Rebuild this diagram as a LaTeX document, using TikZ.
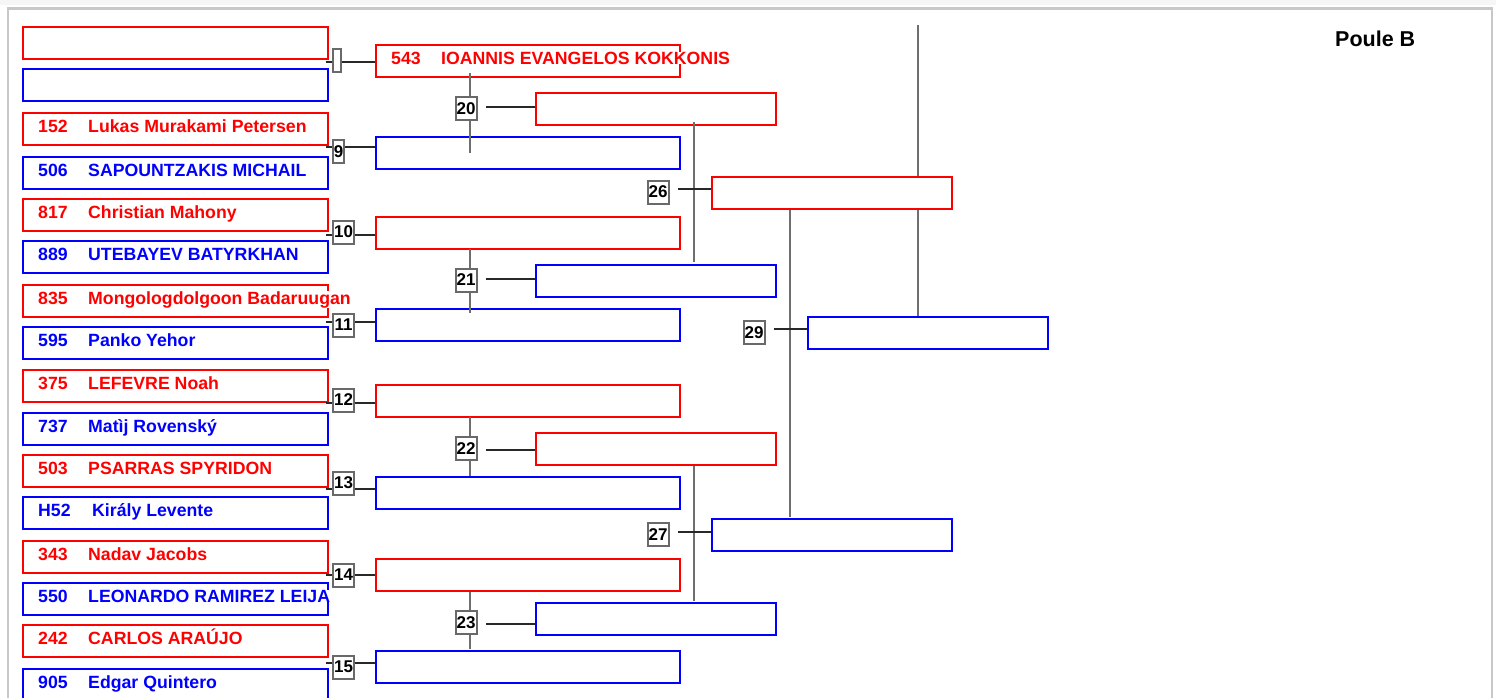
\documentclass[tikz,border=0pt]{standalone}
\usepackage{fontspec}
\setmainfont{Liberation Sans}
\usetikzlibrary{calc}
\definecolor{pred}{RGB}{255,0,0}
\definecolor{pblue}{RGB}{0,0,255}
\definecolor{lgray}{RGB}{105,105,105}
\definecolor{hcol}{RGB}{40,40,40}
\definecolor{vcol}{RGB}{110,110,110}
\definecolor{framec}{RGB}{200,200,200}
\definecolor{topband}{RGB}{246,246,246}
\tikzset{
  pbox/.style={line width=2pt, minimum height=32, inner sep=0, anchor=north west},
  ptxt/.style={inner sep=0, anchor=base west, font=\bfseries\fontsize{17.7}{20}\selectfont},
  lbl/.style={draw=lgray, line width=2pt, fill=white, inner sep=0, minimum width=21, minimum height=23, font=\bfseries\fontsize{17}{19}\selectfont, text=black},
  hconn/.style={draw=hcol, line width=1.1pt},
  vconn/.style={draw=vcol, line width=1.3pt},
}
\newcommand\entrybox[7]{%
  \node[pbox, draw=#5, minimum width=#4] (#1) at (#2+1,#3+1) {};
  \node[ptxt, text=#5] (#1n) at (#2+17,#3+21) {#6};
  \node[ptxt, text=#5, fill=white] (#1t) at (#2+67,#3+21) {#7};
}
\begin{document}
\begin{tikzpicture}[x=1pt,y=-1pt]
\useasboundingbox (0,0) rectangle (1496,697);
\fill[white] (0,0) rectangle (1496,697);
\fill[topband] (0,0) rectangle (1496,5);
\draw[framec, line width=2.5pt] (8,8.5) rectangle (1492,760);

% first column
\entrybox{L0}{21}{25}{305}{pred}{}{}
\entrybox{L1}{21}{67}{305}{pblue}{}{}
\entrybox{L2}{21}{111}{305}{pred}{152}{Lukas Murakami Petersen}
\entrybox{L3}{21}{155}{305}{pblue}{506}{SAPOUNTZAKIS MICHAIL}
\entrybox{L4}{21}{197}{305}{pred}{817}{Christian Mahony}
\entrybox{L5}{21}{239}{305}{pblue}{889}{UTEBAYEV BATYRKHAN}
\entrybox{L6}{21}{283}{305}{pred}{835}{Mongologdolgoon Badaruugan}
\entrybox{L7}{21}{325}{305}{pblue}{595}{Panko Yehor}
\entrybox{L8}{21}{368}{305}{pred}{375}{LEFEVRE Noah}
\entrybox{L9}{21}{411}{305}{pblue}{737}{Matìj Rovenský}
\entrybox{L10}{21}{453}{305}{pred}{503}{PSARRAS SPYRIDON}
\node[pbox, draw=pblue, minimum width=305] (L11) at (22,496) {};
\node[ptxt, text=pblue] (L11n) at (38,516) {H52};
\node[ptxt, text=pblue] (L11t) at (92,516) {Király Levente};
\entrybox{L12}{21}{539}{305}{pred}{343}{Nadav Jacobs}
\entrybox{L13}{21}{581}{305}{pblue}{550}{LEONARDO RAMIREZ LEIJA}
\entrybox{L14}{21}{623}{305}{pred}{242}{CARLOS ARAÚJO}
\entrybox{L15}{21}{667}{305}{pblue}{905}{Edgar Quintero}

% second column
\entrybox{R8}{374}{43}{304}{pred}{543}{IOANNIS EVANGELOS KOKKONIS}
\entrybox{R9}{374}{135}{304}{pblue}{}{}
\entrybox{R10}{374}{215}{304}{pred}{}{}
\entrybox{R11}{374}{307}{304}{pblue}{}{}
\entrybox{R12}{374}{383}{304}{pred}{}{}
\entrybox{R13}{374}{475}{304}{pblue}{}{}
\entrybox{R14}{374}{557}{304}{pred}{}{}
\entrybox{R15}{374}{649}{304}{pblue}{}{}

% third column
\entrybox{Q20}{534}{91}{240}{pred}{}{}
\entrybox{Q21}{534}{263}{240}{pblue}{}{}
\entrybox{Q22}{534}{431}{240}{pred}{}{}
\entrybox{Q23}{534}{601}{240}{pblue}{}{}

% fourth column
\entrybox{S26}{710}{175}{240}{pred}{}{}
\entrybox{S27}{710}{517}{240}{pblue}{}{}

% fifth column
\entrybox{F29}{806}{315}{240}{pblue}{}{}

% first round connectors
\coordinate (m8) at (326,62);
\coordinate (m9) at (326,147);
\coordinate (m10) at (326,235);
\coordinate (m11) at (326,322);
\coordinate (m12) at (326,403);
\coordinate (m13) at (326,489);
\coordinate (m14) at (326,575);
\coordinate (m15) at (326,663);
\foreach \k in {8,...,15} { \draw[hconn] (m\k) -- (m\k -| R\k.west); }
\node[lbl, minimum width=8] (t8) at (337,60.5) {};
\node[lbl, minimum width=11] (t9) at (338.5,151.5) {9};
\node[lbl] (t10) at (343.5,232) {10};
\node[lbl] (t11) at (343.5,325) {11};
\node[lbl] (t12) at (343.5,400) {12};
\node[lbl] (t13) at (343.5,483) {13};
\node[lbl] (t14) at (343.5,575) {14};
\node[lbl] (t15) at (343.5,667) {15};

% second round connectors
\coordinate (v20a) at (470,73);  \coordinate (v20b) at (470,153);
\coordinate (v21a) at (470,249); \coordinate (v21b) at (470,313);
\coordinate (v22a) at (470,417); \coordinate (v22b) at (470,476);
\coordinate (v23a) at (470,592); \coordinate (v23b) at (470,649);
\coordinate (h20) at (486,107);
\coordinate (h21) at (486,279);
\coordinate (h22) at (486,450);
\coordinate (h23) at (486,624);
\foreach \k in {20,...,23} {
  \draw[vconn] (v\k a) -- (v\k b);
  \draw[hconn] (h\k) -- (h\k -| Q\k.west);
}
\node[lbl] (t20) at (466,108.5) {20};
\node[lbl] (t21) at (466,280) {21};
\node[lbl] (t22) at (466,448.5) {22};
\node[lbl] (t23) at (466,622.5) {23};

% third round connectors
\coordinate (v26a) at (694,122); \coordinate (v26b) at (694,262);
\coordinate (v27a) at (694,466); \coordinate (v27b) at (694,601);
\coordinate (h26) at (678,189);
\coordinate (h27) at (678,532);
\draw[vconn] (v26a) -- (v26b);
\draw[vconn] (v27a) -- (v27b);
\draw[hconn] (h26) -- (h26 -| S26.west);
\draw[hconn] (h27) -- (h27 -| S27.west);
\node[lbl] (t26) at (658,192) {26};
\node[lbl] (t27) at (658,534.5) {27};

% fourth round connectors
\coordinate (v29a) at (790,210); \coordinate (v29b) at (790,517);
\coordinate (h29) at (774,329);
\draw[vconn] (v29a) -- (v29b);
\draw[hconn] (h29) -- (h29 -| F29.west);
\node[lbl] (t29) at (754,332.5) {29};

% final line
\coordinate (top) at (918,25);
\draw[vconn] (top) -- (top |- S26.north);
\draw[vconn] (S26.south -| top) -- (top |- F29.north);

\node[inner sep=0, anchor=base west, font=\bfseries\fontsize{21.5}{24}\selectfont] (poule) at (1335,46) {Poule B};
\end{tikzpicture}
\end{document}
